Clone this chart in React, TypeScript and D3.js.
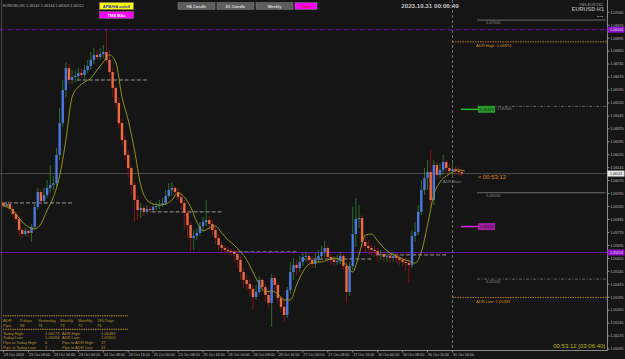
import React from 'react';
import * as d3 from 'd3';

const W = 625;
const H = 359;

const firstOpen = 1.05941;
const closes = [1.05923,1.05935,1.05906,1.05877,1.05848,1.05784,1.05761,1.05779,1.05767,1.05802,
1.05918,1.06004,1.05952,1.05987,1.06028,1.06045,1.06056,1.06219,1.06404,1.06595,
1.06722,1.06653,1.06670,1.06676,1.06693,1.06682,1.06711,1.06734,1.06769,1.06798,
1.06786,1.06803,1.06815,1.06769,1.06699,1.06607,1.06520,1.06404,1.06305,1.06219,
1.06143,1.06045,1.05958,1.05900,1.05912,1.05889,1.05906,1.05900,1.05918,1.05923,
1.05929,1.05941,1.05981,1.06016,1.06028,1.06004,1.05975,1.05941,1.05883,1.05813,
1.05738,1.05750,1.05767,1.05807,1.05831,1.05842,1.05819,1.05784,1.05738,1.05697,
1.05680,1.05669,1.05663,1.05657,1.05645,1.05611,1.05541,1.05495,1.05472,1.05443,
1.05396,1.05425,1.05495,1.05454,1.05408,1.05362,1.05506,1.05466,1.05391,1.05339,
1.05292,1.05437,1.05541,1.05582,1.05564,1.05599,1.05628,1.05634,1.05611,1.05587,
1.05611,1.05634,1.05657,1.05680,1.05628,1.05611,1.05599,1.05605,1.05634,1.05576,
1.05425,1.05576,1.05761,1.05848,1.05854,1.05715,1.05692,1.05680,1.05669,1.05663,
1.05640,1.05645,1.05628,1.05634,1.05622,1.05634,1.05622,1.05611,1.05599,1.05593,
1.05582,1.05750,1.05773,1.05889,1.06016,1.06085,1.06120,1.05958,1.06161,1.06103,
1.06132,1.06178,1.06143,1.06126,1.06138,1.06126,1.06120,1.06111];

const opens = [firstOpen, ...closes.slice(0, closes.length - 1)];

const highs = [1.05952,1.05952,1.05941,1.05918,1.05894,1.05860,1.05796,1.05796,1.05790,1.05819,
1.05935,1.06028,1.06016,1.06028,1.06074,1.06161,1.06097,1.06259,1.06491,1.06653,
1.06757,1.06745,1.06711,1.06711,1.06722,1.06722,1.06740,1.06769,1.06815,1.06838,
1.06827,1.06838,1.06855,1.06942,1.06827,1.06722,1.06624,1.06549,1.06433,1.06334,
1.06248,1.06161,1.06062,1.05987,1.05941,1.05929,1.05929,1.05923,1.05935,1.05946,
1.05958,1.05970,1.06016,1.06056,1.06062,1.06039,1.06028,1.05999,1.05958,1.05900,
1.05831,1.05784,1.05796,1.05831,1.05860,1.05958,1.05865,1.05842,1.05807,1.05761,
1.05715,1.05697,1.05686,1.05674,1.05669,1.05663,1.05634,1.05564,1.05524,1.05501,
1.05466,1.05466,1.05518,1.05506,1.05472,1.05437,1.05530,1.05524,1.05477,1.05402,
1.05391,1.05454,1.05599,1.05622,1.05611,1.05634,1.05651,1.05657,1.05657,1.05634,
1.05651,1.05669,1.05692,1.05721,1.05697,1.05645,1.05634,1.05640,1.05657,1.05645,
1.05599,1.05599,1.05918,1.05970,1.05929,1.05871,1.05750,1.05726,1.05703,1.05697,
1.05680,1.05669,1.05663,1.05657,1.05651,1.05657,1.05651,1.05640,1.05628,1.05622,
1.05622,1.05784,1.05831,1.05929,1.06074,1.06143,1.06190,1.06248,1.06190,1.06178,
1.06172,1.06219,1.06190,1.06172,1.06173,1.06155,1.06149,1.06138];

const lows = [1.05912,1.05912,1.05894,1.05860,1.05831,1.05750,1.05738,1.05750,1.05744,1.05715,
1.05790,1.05900,1.05929,1.05935,1.05970,1.05999,1.06016,1.06033,1.06190,1.06381,
1.06549,1.06630,1.06630,1.06641,1.06653,1.06664,1.06664,1.06693,1.06711,1.06745,
1.06769,1.06769,1.06780,1.06751,1.06682,1.06554,1.06491,1.06375,1.06276,1.06190,
1.06085,1.05987,1.05831,1.05842,1.05854,1.05865,1.05877,1.05883,1.05889,1.05900,
1.05906,1.05918,1.05929,1.05970,1.05981,1.05981,1.05958,1.05900,1.05784,1.05738,
1.05657,1.05669,1.05726,1.05750,1.05773,1.05807,1.05784,1.05750,1.05703,1.05669,
1.05651,1.05645,1.05640,1.05634,1.05599,1.05564,1.05495,1.05449,1.05437,1.05402,
1.05321,1.05379,1.05414,1.05425,1.05367,1.05333,1.05223,1.05437,1.05362,1.05310,
1.05252,1.05275,1.05414,1.05495,1.05524,1.05541,1.05576,1.05599,1.05582,1.05564,
1.05564,1.05593,1.05622,1.05628,1.05599,1.05582,1.05576,1.05582,1.05587,1.05553,
1.05362,1.05402,1.05553,1.05686,1.05796,1.05680,1.05657,1.05645,1.05634,1.05628,
1.05599,1.05611,1.05599,1.05599,1.05593,1.05599,1.05593,1.05582,1.05576,1.05553,
1.05477,1.05564,1.05715,1.05755,1.05871,1.05987,1.06016,1.05918,1.05929,1.06074,
1.06085,1.06103,1.06120,1.06103,1.06094,1.06103,1.06097,1.06097];

// moving average read at every second bar (bar 0, 2, 4, ... 148)
const maValues = [1.05923,1.05912,1.05877,1.05831,1.05802,1.05790,1.05819,1.05900,1.05975,1.06097,
1.06305,1.06554,1.06612,1.06641,1.06664,1.06711,1.06757,1.06798,1.06757,1.06554,
1.06421,1.06248,1.06045,1.05958,1.05935,1.05929,1.05935,1.05958,1.05999,1.05975,
1.05918,1.05831,1.05779,1.05796,1.05807,1.05767,1.05726,1.05697,1.05657,1.05611,
1.05541,1.05472,1.05425,1.05431,1.05414,1.05379,1.05379,1.05466,1.05541,1.05587,
1.05599,1.05599,1.05611,1.05622,1.05611,1.05582,1.05541,1.05640,1.05755,1.05761,
1.05721,1.05680,1.05651,1.05634,1.05616,1.05605,1.05593,1.05657,1.05813,1.05987,
1.06062,1.06097,1.06120,1.06132,1.06126];

const dayLevels = [1.05941, 1.06653, 1.05889, 1.05657, 1.05616, 1.05640];

const priceTicks = ['1.07045','1.06970','1.06895','1.06820','1.06745','1.06670','1.06595','1.06520','1.06445',
'1.06370','1.06295','1.06220','1.06145','1.06070','1.05995','1.05920','1.05845','1.05770','1.05695',
'1.05620','1.05545','1.05470','1.05395','1.05320','1.05245','1.05170','1.05095'];

const timeLabels = ['23 Oct 2023','23 Oct 08:00','23 Oct 16:00','24 Oct 00:00','24 Oct 08:00','24 Oct 16:00',
'25 Oct 00:00','25 Oct 08:00','25 Oct 16:00','26 Oct 00:00','26 Oct 08:00','26 Oct 16:00','27 Oct 00:00',
'27 Oct 08:00','27 Oct 16:00','30 Oct 00:00','30 Oct 08:00','30 Oct 16:00','31 Oct 00:00'];

const purpleTop = 1.06944;
const purpleBottom = 1.05654;
const currentPrice = 1.06111;
const adrHigh = 1.06874;
const adrLow = 1.05393;
const roundSolid = [1.07000, 1.06000];
const roundDashed = [1.06500, 1.05500];
const roundDashedLabelX = [497, 486];
const adrBoxHigh = 1.06483;
const adrBoxLow = 1.05804;

const panelHeader = ['ADR:', '5 days', 'Yesterday', 'Weekly', 'Monthly', '180 Days'];
const panelPips = ['Pips:', '68', '78', '73', '72', '76'];
const panelRows = [
  ['Today High:', '1.06173', 'ADR High:', '1.06483'],
  ['Today Low:', '1.06094', 'ADR Low:', '1.05804'],
  ['Pips to Today High:', '6', 'Pips to ADR High:', '37'],
  ['Pips to Today Low:', '2', 'Pips to ADR Low:', '31'],
];

const FONT = 'Liberation Sans, Arial, sans-serif';
const BG = '#151515';
const GOLD = '#b8912e';

export default function App() {
  const x = d3.scaleLinear().domain([0, 144]).range([3.5, 452.5]);
  const y = d3.scaleLinear().domain([1.07045, 1.05095]).range([12.3, 349]);
  const axisX = 607.5;
  const axisY = 350.5;
  const nowX = x(144);

  const maPath = d3.line<number>()
    .x((_, k) => x(k * 2))
    .y((d) => y(d))
    .curve(d3.curveMonotoneX)(maValues) || '';

  const colX = [3, 20, 38, 60, 78, 97];
  const rowX = [3, 45, 62, 101];

  return (
    <svg width={W} height={H} style={{ position: 'absolute', left: 0, top: 0, background: BG }} fontFamily={FONT}>
      <rect x={0} y={0} width={W} height={H} fill={BG} />
      <line x1={1.5} x2={1.5} y1={0} y2={axisY} stroke="#4a4a4a" />

      {/* day levels */}
      {dayLevels.map((lv, d) => (
        <line key={'d' + d} x1={Math.max(0, x(24 * d) - 1.5)} x2={x(24 * d + 22)} y1={y(lv)} y2={y(lv)}
          stroke="#9c9c9c" strokeDasharray="4,2" strokeWidth={1} />
      ))}

      {/* horizontal levels */}
      <line x1={0} x2={axisX} y1={y(purpleTop)} y2={y(purpleTop)} stroke="#7a12b4" strokeDasharray="4,1.5,1,1.5" />
      <line x1={0} x2={axisX} y1={y(purpleBottom)} y2={y(purpleBottom)} stroke="#6a1a9e" />
      <line x1={0} x2={axisX} y1={y(currentPrice)} y2={y(currentPrice)} stroke="#4c4c4c" />
      <line x1={nowX} x2={nowX} y1={0} y2={axisY} stroke="#6e6e6e" strokeDasharray="3,2" />
      <line x1={nowX} x2={axisX} y1={y(adrHigh)} y2={y(adrHigh)} stroke="#b8761c" strokeDasharray="1.5,1" />
      <line x1={nowX} x2={axisX} y1={y(adrLow)} y2={y(adrLow)} stroke="#b8761c" strokeDasharray="1.5,1" />
      {roundSolid.map((lv, k) => (
        <g key={'rs' + k}>
          <line x1={477} x2={axisX - 2} y1={y(lv)} y2={y(lv)} stroke="#6a6a6a" />
          <text x={486} y={y(lv) + 4} fontSize={4} fill="#8a8a8a">{lv.toFixed(5)}</text>
        </g>
      ))}
      {roundDashed.map((lv, k) => (
        <g key={'rd' + k}>
          <line x1={477} x2={axisX} y1={y(lv)} y2={y(lv)} stroke="#626262" strokeDasharray="3,1.5,1,1.5" />
          <text x={roundDashedLabelX[k]} y={y(lv) + 4} fontSize={4} fill="#8a8a8a">{lv.toFixed(5)}</text>
        </g>
      ))}

      {/* candles */}
      {closes.map((c, i) => {
        const o = opens[i];
        const bull = c >= o;
        const cx = x(i);
        const hi = Math.max(highs[i], o, c);
        const lo = Math.min(lows[i], o, c);
        const top = y(Math.max(o, c));
        const bot = y(Math.min(o, c));
        return (
          <g key={'c' + i}>
            <line x1={cx} x2={cx} y1={y(hi)} y2={y(lo)} stroke={bull ? '#2c7a2c' : '#8a1616'} strokeWidth={0.9} />
            <rect x={cx - 1.2} y={top} width={2.4} height={Math.max(0.8, bot - top)} fill={bull ? '#4a78e0' : '#f0683e'} />
          </g>
        );
      })}

      {/* moving average */}
      <path d={maPath} fill="none" stroke="#929218" strokeWidth={1} />

      {/* ADR boxes */}
      <line x1={461} x2={478} y1={y(adrBoxHigh)} y2={y(adrBoxHigh)} stroke="#22c022" strokeWidth={1.5} />
      <rect x={478} y={y(adrBoxHigh) - 3.5} width={17} height={7} fill="#2a962a" />
      <text x={486.5} y={y(adrBoxHigh) + 1.5} fontSize={4} fill="#0c3a0c" textAnchor="middle">{adrBoxHigh.toFixed(5)}</text>
      <line x1={461} x2={478} y1={y(adrBoxLow)} y2={y(adrBoxLow)} stroke="#e020e0" strokeWidth={1.5} />
      <rect x={478} y={y(adrBoxLow) - 3.5} width={17} height={7} fill="#a01ea0" />
      <text x={486.5} y={y(adrBoxLow) + 1.5} fontSize={4} fill="#3a0a3a" textAnchor="middle">{adrBoxLow.toFixed(5)}</text>

      {/* labels on chart */}
      <text x={476} y={y(adrHigh) + 5} fontSize={4.1} fill="#c88a24">ADR High: {adrHigh.toFixed(5)}</text>
      <text x={476} y={y(adrLow) + 5} fontSize={4.1} fill="#c88a24">ADR Low: {adrLow.toFixed(5)}</text>
      <text x={478} y={y(currentPrice) + 5.5} fontSize={5.9} fill="#e08a1e">{'< 00:53:12'}</text>
      <text x={443} y={y(currentPrice) + 9.5} fontSize={4} fill="#8a8a8a">ADR Start</text>
      <text x={605} y={348} fontSize={6} fill="#b8b81c" textAnchor="end">00:53:12 [03:06:40]</text>
      <text x={430} y={8} fontSize={6.2} fontWeight="bold" fill="#c4c4c4" textAnchor="middle">2023.10.31 00:06:49</text>
      <text x={3} y={7} fontSize={3.8} fill="#b0b0b0">EURUSD,H1  1.06142 1.06144 1.06109 1.06112</text>
      <text x={603} y={5.5} fontSize={3.6} fill="#9a9a9a" textAnchor="end">TMS-EURUSD</text>
      <text x={604} y={11} fontSize={5.6} fill="#a0a0a0" textAnchor="end" fontWeight="bold">EURUSD H1</text>
      <line x1={597} x2={603} y1={16.5} y2={16.5} stroke="#888" strokeDasharray="1.5,0.8" />

      {/* buttons */}
      <rect x={99.5} y={2.5} width={34} height={7} fill="#ffff00" stroke="#777" strokeWidth={0.5} />
      <text x={116.5} y={7.6} fontSize={4} fontWeight="bold" fill="#1c2cc8" textAnchor="middle">APB/HA on/off</text>
      <rect x={99.5} y={11.5} width={34} height={7} fill="#ff00ff" stroke="#777" strokeWidth={0.5} />
      <text x={116.5} y={16.6} fontSize={4} fontWeight="bold" fill="#ffffff" textAnchor="middle">TMS MAs</text>
      {['H4 Candle', 'D1 Candle', 'Weekly'].map((t, k) => (
        <g key={'b' + k}>
          <rect x={178 + k * 39} y={2.7} width={37} height={6.6} fill="#5e5e5e" stroke="#8a8a8a" strokeWidth={0.5} />
          <text x={196.5 + k * 39} y={7.5} fontSize={4} fontWeight="bold" fill="#dcdcdc" textAnchor="middle">{t}</text>
        </g>
      ))}
      <rect x={295} y={2.7} width={22} height={6.6} fill="#ff00ff" stroke="#8a8a8a" strokeWidth={0.5} />
      <text x={306} y={7.5} fontSize={4} fontWeight="bold" fill="#ff1010" textAnchor="middle">Pivot</text>

      {/* ADR panel */}
      <line x1={3} x2={128} y1={315.8} y2={315.8} stroke={GOLD} strokeDasharray="1.5,0.8" />
      <line x1={3} x2={128} y1={329.3} y2={329.3} stroke={GOLD} strokeDasharray="1.5,0.8" />
      {panelHeader.map((t, k) => (
        <text key={'ph' + k} x={colX[k]} y={322.2} fontSize={4} fill={GOLD}>{t}</text>
      ))}
      {panelPips.map((t, k) => (
        <text key={'pp' + k} x={colX[k]} y={326.6} fontSize={4} fill={GOLD}>{t}</text>
      ))}
      {panelRows.map((row, r) => row.map((t, k) => (
        <text key={'pr' + r + '_' + k} x={rowX[k]} y={334.8 + r * 4.6} fontSize={4} fill={GOLD}>{t}</text>
      )))}

      {/* axes */}
      <rect x={axisX} y={0} width={W - axisX} height={H} fill={BG} />
      <line x1={axisX} x2={axisX} y1={0} y2={axisY} stroke="#8c8c8c" />
      <line x1={0} x2={axisX} y1={axisY} y2={axisY} stroke="#8c8c8c" />
      {priceTicks.map((t) => (
        <g key={'pt' + t}>
          <line x1={axisX} x2={axisX + 2} y1={y(+t)} y2={y(+t)} stroke="#8c8c8c" />
          <text x={610.5} y={y(+t) + 1.3} fontSize={3.6} fill="#bdbdbd">{t}</text>
        </g>
      ))}
      {timeLabels.map((t, k) => (
        <g key={'tl' + k}>
          <line x1={x(8 * k)} x2={x(8 * k)} y1={axisY} y2={axisY + 2} stroke="#8c8c8c" />
          <text x={x(8 * k) + 0.5} y={356.3} fontSize={3.7} fill="#bdbdbd">{t}</text>
        </g>
      ))}

      {/* price boxes on right axis */}
      <rect x={axisX} y={y(purpleTop) - 3} width={17} height={6} fill="#8a12c8" />
      <text x={610} y={y(purpleTop) + 1.3} fontSize={3.6} fill="#e8d0f0">{purpleTop.toFixed(5)}</text>
      <rect x={axisX} y={y(purpleBottom) - 3} width={17} height={6} fill="#8a12c8" />
      <text x={610} y={y(purpleBottom) + 1.3} fontSize={3.6} fill="#e8d0f0">{purpleBottom.toFixed(5)}</text>
      <rect x={axisX} y={y(currentPrice) - 3} width={17} height={6} fill="#e6e6e6" />
      <text x={610} y={y(currentPrice) + 1.3} fontSize={3.6} fill="#202020">{currentPrice.toFixed(5)}</text>
    </svg>
  );
}
